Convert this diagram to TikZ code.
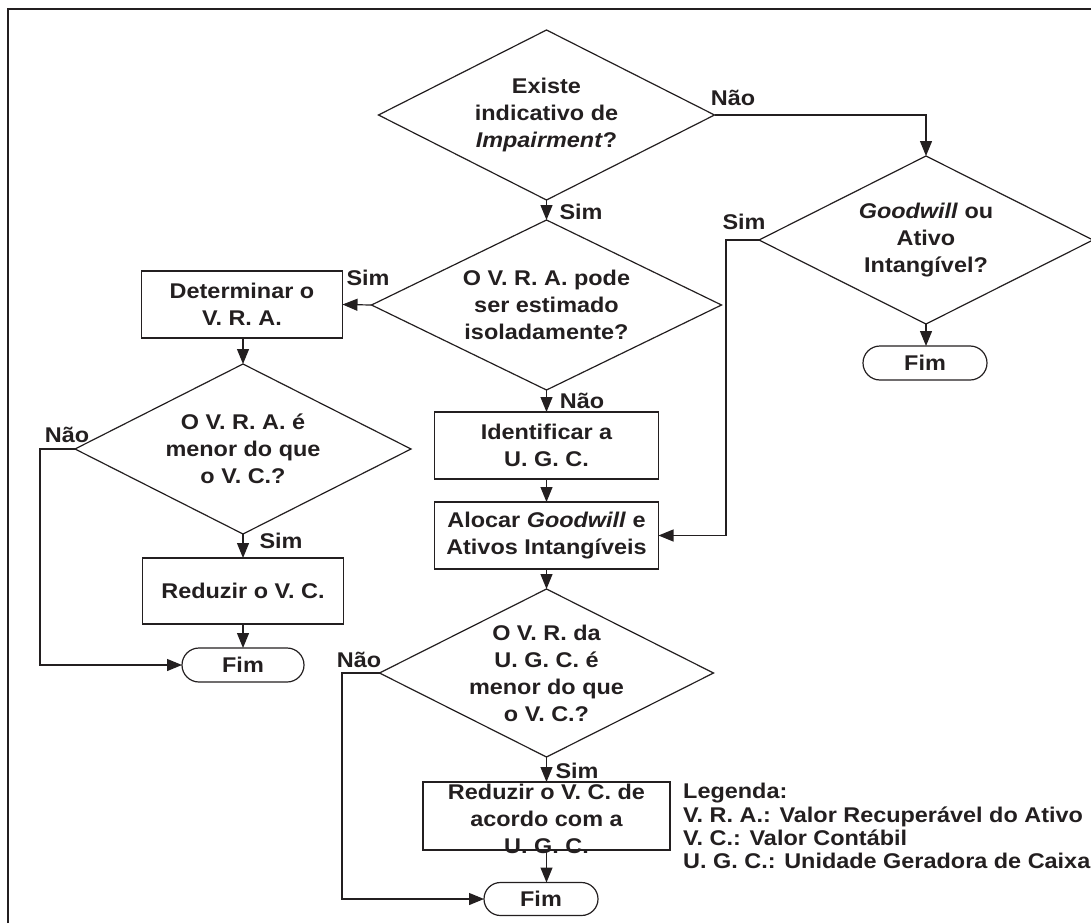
\documentclass[tikz,border=0pt]{standalone}
\usepackage{fontspec}
\setmainfont{Liberation Sans}[FakeStretch=1.1]
\usetikzlibrary{arrows.meta,shapes.geometric,shapes.misc}
\definecolor{ink}{HTML}{231F20}
\tikzset{
  every node/.style={font=\fontsize{21.3}{27}\selectfont\bfseries, text=ink},
  dia/.style={draw=ink, diamond, minimum width=#1, minimum height=170pt, inner sep=0pt, outer sep=0pt, line width=1.2pt},
  dia/.default=336pt,
  txt/.style={align=center, inner sep=0pt},
  box/.style={draw=ink, rectangle, align=center, inner sep=0pt, outer sep=0pt, line width=1.2pt},
  term/.style={draw=ink, rounded rectangle, minimum width=122pt, minimum height=34pt, inner sep=0pt, outer sep=0pt, line width=1.2pt},
  lab/.style={inner sep=0pt},
  arr/.style={draw=ink, line width=1.2pt, -{Triangle[length=15pt,width=12pt]}},
  leg/.style={anchor=base west, inner sep=0pt}
}
\begin{document}
\begin{tikzpicture}[x=1pt,y=-1pt]
\useasboundingbox (0,0) rectangle (1091,923);
\draw[ink, line width=1.6pt] (8,923) -- (8,9) -- (1091,9);

% decisions
\node[dia=336pt] (d1) at (546.5,115) {};
\node[txt] (d1t) at (d1) {Existe\\indicativo de\\\textit{Impairment}?};
\node[dia=350pt] (d2) at (546.5,305) {};
\node[txt] (d2t) at (d2) {O V. R. A. pode\\ser estimado\\isoladamente?};
\node[dia=334pt, minimum height=168pt] (d3) at (926,240) {};
\node[txt] (d3t) at (d3) {\textit{Goodwill} ou\\Ativo\\Intangível?};
\node[dia=336pt] (d4) at (243,449) {};
\node[txt] (d4t) at (d4) {O V. R. A. é\\menor do que\\o V. C.?};
\node[dia=334pt, minimum height=168pt] (d5) at (546.5,673) {};
\node[txt] (d5t) at (d5) {O V. R. da\\U. G. C. é\\menor do que\\o V. C.?};

% boxes
\node[box, minimum width=201pt, minimum height=67pt] (b1) at (242,304.5) {Determinar o\\V. R. A.};
\node[box, minimum width=201pt, minimum height=66pt] (b2) at (243,591) {Reduzir o V. C.};
\node[box, minimum width=224pt, minimum height=67pt] (b3) at (546.5,445.5) {Identificar a\\U. G. C.};
\node[box, minimum width=224pt, minimum height=67pt] (b4) at (546.5,535.5) {Alocar \textit{Goodwill} e\\Ativos Intangíveis};
\node[box, minimum width=247pt, minimum height=68pt] (b5) at (546.5,816) {};
\node[txt] (b5t) at (546.5,819) {Reduzir o V. C. de\\acordo com a\\U. G. C.};

% terminals
\node[term] (f1) at (243,665) {Fim};
\node[term, minimum width=114pt, minimum height=33pt] (f2) at (541,899) {Fim};
\node[term, minimum width=124pt] (f3) at (925,363) {Fim};

% helper coordinates
\coordinate (c1) at (726,0);
\coordinate (c2) at (40,0);
\coordinate (c3) at (342,0);

% connectors
\draw[arr] (d1.south) -- (d2.north);
\draw[arr] (d1.east) -| (d3.north);
\draw[arr] (d3.south) -- (d3.south |- f3.north);
\draw[arr] (d3.west) -| (c1 |- b4.east) -- (b4.east);
\draw[arr] (d2.west) -- (b1.east);
\draw[arr] (d2.south) -- (b3.north);
\draw[arr] (b1.south -| d4.north) -- (d4.north);
\draw[arr] (d4.south) -- (d4.south |- b2.north);
\draw[arr] (b2.south -| f1.north) -- (f1.north);
\draw[arr] (d4.west) -| (c2 |- f1.west) -- (f1.west);
\draw[arr] (b3.south) -- (b4.north);
\draw[arr] (b4.south) -- (d5.north);
\draw[arr] (d5.south) -- (b5.north);
\draw[arr] (b5.south) -- (b5.south |- f2.north);
\draw[arr] (d5.west) -| (c3 |- f2.west) -- (f2.west);

% labels
\node[lab] (l1) at (581,212) {Sim};
\node[lab] (l2) at (733,98) {Não};
\node[lab] (l3) at (744,222) {Sim};
\node[lab] (l4) at (368,278) {Sim};
\node[lab] (l5) at (582,401) {Não};
\node[lab] (l6) at (67,435) {Não};
\node[lab] (l7) at (281,541) {Sim};
\node[lab] (l8) at (359,660) {Não};
\node[lab] (l9) at (577,771) {Sim};

% legend
\node[leg] (g1) at (683,798) {Legenda:};
\node[leg] (g2) at (683,822) {V. R. A.: Valor Recuperável do Ativo};
\node[leg] (g3) at (683,845) {V. C.: Valor Contábil};
\node[leg] (g4) at (683,868) {U. G. C.: Unidade Geradora de Caixa};
\end{tikzpicture}
\end{document}
